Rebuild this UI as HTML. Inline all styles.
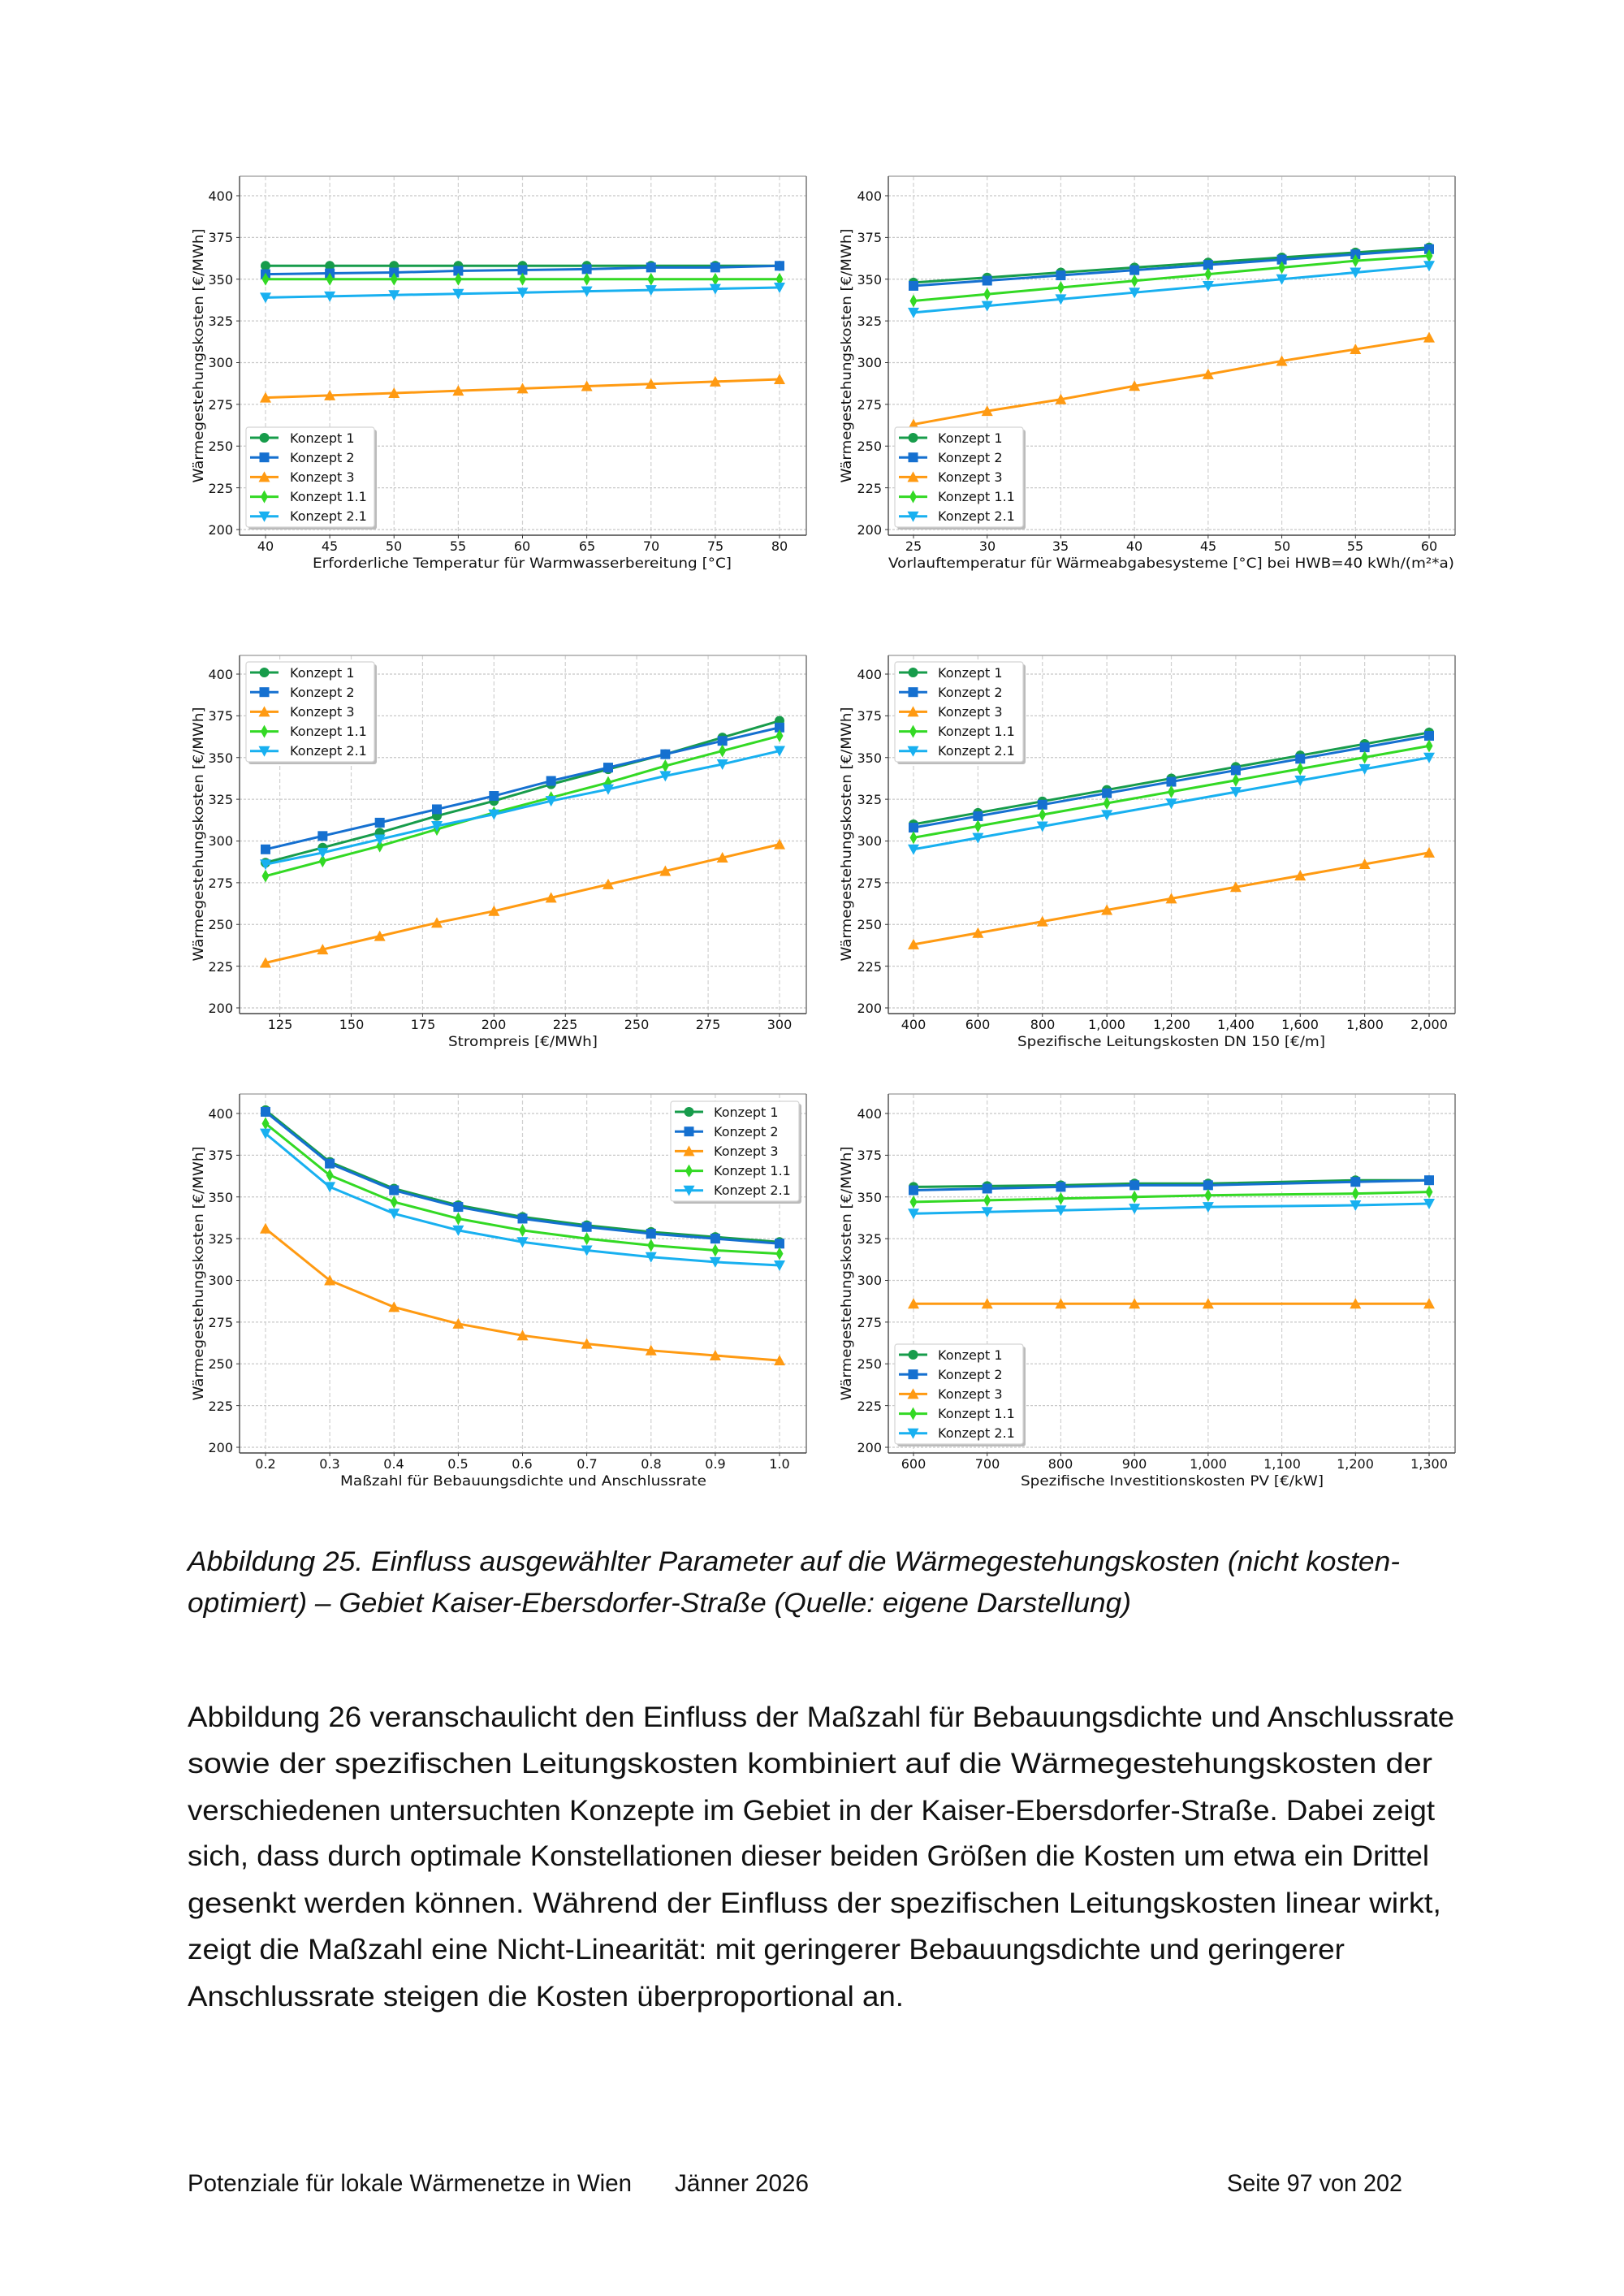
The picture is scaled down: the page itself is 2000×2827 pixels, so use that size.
<!DOCTYPE html>
<html><head><meta charset="utf-8">
<style>
html,body{margin:0;padding:0;background:#fff;}
svg{display:block;}
.tk{font-family:"DejaVu Sans",sans-serif;font-size:16px;fill:#111;}
.al{font-family:"DejaVu Sans",sans-serif;font-size:17px;fill:#111;}
.lg{font-family:"DejaVu Sans",sans-serif;font-size:16px;fill:#111;}
.cap{font-family:"Liberation Sans",sans-serif;font-size:34px;font-style:italic;fill:#111;}
.par{font-family:"Liberation Sans",sans-serif;font-size:35px;fill:#111;}
.ft{font-family:"Liberation Sans",sans-serif;font-size:30px;fill:#111;}
</style></head>
<body>
<svg id="s" width="2000" height="2827" viewBox="0 0 2000 2827" xmlns="http://www.w3.org/2000/svg">
<rect width="2000" height="2827" fill="#fff"/>
<g id="grid"></g>
<g id="data"></g>

<!-- Chart A -->
<g class="tk" text-anchor="end">
<text x="287" y="247">400</text><text x="287" y="298">375</text><text x="287" y="350">350</text><text x="287" y="401">325</text><text x="287" y="452">300</text><text x="287" y="504">275</text><text x="287" y="555">250</text><text x="287" y="607">225</text><text x="287" y="658">200</text>
</g>
<g class="tk" text-anchor="middle">
<text x="327" y="678">40</text><text x="406" y="678">45</text><text x="485" y="678">50</text><text x="564" y="678">55</text><text x="643" y="678">60</text><text x="723" y="678">65</text><text x="802" y="678">70</text><text x="881" y="678">75</text><text x="960" y="678">80</text>
</g>
<text class="al" x="385" y="699" textLength="516" lengthAdjust="spacingAndGlyphs">Erforderliche Temperatur für Warmwasserbereitung [°C]</text>
<text class="al" transform="translate(250,438) rotate(-90)" text-anchor="middle" textLength="313" lengthAdjust="spacingAndGlyphs">Wärmegestehungskosten [€/MWh]</text>

<!-- Chart B -->
<g class="tk" text-anchor="end">
<text x="1086" y="247">400</text><text x="1086" y="298">375</text><text x="1086" y="350">350</text><text x="1086" y="401">325</text><text x="1086" y="452">300</text><text x="1086" y="504">275</text><text x="1086" y="555">250</text><text x="1086" y="607">225</text><text x="1086" y="658">200</text>
</g>
<g class="tk" text-anchor="middle">
<text x="1125" y="678">25</text><text x="1216" y="678">30</text><text x="1306" y="678">35</text><text x="1397" y="678">40</text><text x="1488" y="678">45</text><text x="1579" y="678">50</text><text x="1669" y="678">55</text><text x="1760" y="678">60</text>
</g>
<text class="al" x="1094" y="699" textLength="697" lengthAdjust="spacingAndGlyphs">Vorlauftemperatur für Wärmeabgabesysteme [°C] bei HWB=40 kWh/(m²*a)</text>
<text class="al" transform="translate(1048,438) rotate(-90)" text-anchor="middle" textLength="313" lengthAdjust="spacingAndGlyphs">Wärmegestehungskosten [€/MWh]</text>

<!-- Chart C -->
<g class="tk" text-anchor="end">
<text x="287" y="836">400</text><text x="287" y="887">375</text><text x="287" y="939">350</text><text x="287" y="990">325</text><text x="287" y="1041">300</text><text x="287" y="1093">275</text><text x="287" y="1144">250</text><text x="287" y="1196">225</text><text x="287" y="1247">200</text>
</g>
<g class="tk" text-anchor="middle">
<text x="345" y="1267">125</text><text x="433" y="1267">150</text><text x="521" y="1267">175</text><text x="608" y="1267">200</text><text x="696" y="1267">225</text><text x="784" y="1267">250</text><text x="872" y="1267">275</text><text x="960" y="1267">300</text>
</g>
<text class="al" x="552" y="1288" textLength="184" lengthAdjust="spacingAndGlyphs">Strompreis [€/MWh]</text>
<text class="al" transform="translate(250,1027) rotate(-90)" text-anchor="middle" textLength="313" lengthAdjust="spacingAndGlyphs">Wärmegestehungskosten [€/MWh]</text>

<!-- Chart D -->
<g class="tk" text-anchor="end">
<text x="1086" y="836">400</text><text x="1086" y="887">375</text><text x="1086" y="939">350</text><text x="1086" y="990">325</text><text x="1086" y="1041">300</text><text x="1086" y="1093">275</text><text x="1086" y="1144">250</text><text x="1086" y="1196">225</text><text x="1086" y="1247">200</text>
</g>
<g class="tk" text-anchor="middle">
<text x="1125" y="1267">400</text><text x="1204" y="1267">600</text><text x="1284" y="1267">800</text><text x="1363" y="1267">1,000</text><text x="1443" y="1267">1,200</text><text x="1522" y="1267">1,400</text><text x="1601" y="1267">1,600</text><text x="1681" y="1267">1,800</text><text x="1760" y="1267">2,000</text>
</g>
<text class="al" x="1253" y="1288" textLength="379" lengthAdjust="spacingAndGlyphs">Spezifische Leitungskosten DN 150 [€/m]</text>
<text class="al" transform="translate(1048,1027) rotate(-90)" text-anchor="middle" textLength="313" lengthAdjust="spacingAndGlyphs">Wärmegestehungskosten [€/MWh]</text>

<!-- Chart E -->
<g class="tk" text-anchor="end">
<text x="287" y="1377">400</text><text x="287" y="1428">375</text><text x="287" y="1480">350</text><text x="287" y="1531">325</text><text x="287" y="1582">300</text><text x="287" y="1634">275</text><text x="287" y="1685">250</text><text x="287" y="1737">225</text><text x="287" y="1788">200</text>
</g>
<g class="tk" text-anchor="middle">
<text x="327" y="1808">0.2</text><text x="406" y="1808">0.3</text><text x="485" y="1808">0.4</text><text x="564" y="1808">0.5</text><text x="643" y="1808">0.6</text><text x="723" y="1808">0.7</text><text x="802" y="1808">0.8</text><text x="881" y="1808">0.9</text><text x="960" y="1808">1.0</text>
</g>
<text class="al" x="419" y="1829" textLength="451" lengthAdjust="spacingAndGlyphs">Maßzahl für Bebauungsdichte und Anschlussrate</text>
<text class="al" transform="translate(250,1568) rotate(-90)" text-anchor="middle" textLength="313" lengthAdjust="spacingAndGlyphs">Wärmegestehungskosten [€/MWh]</text>

<!-- Chart F -->
<g class="tk" text-anchor="end">
<text x="1086" y="1377">400</text><text x="1086" y="1428">375</text><text x="1086" y="1480">350</text><text x="1086" y="1531">325</text><text x="1086" y="1582">300</text><text x="1086" y="1634">275</text><text x="1086" y="1685">250</text><text x="1086" y="1737">225</text><text x="1086" y="1788">200</text>
</g>
<g class="tk" text-anchor="middle">
<text x="1125" y="1808">600</text><text x="1216" y="1808">700</text><text x="1306" y="1808">800</text><text x="1397" y="1808">900</text><text x="1488" y="1808">1,000</text><text x="1579" y="1808">1,100</text><text x="1669" y="1808">1,200</text><text x="1760" y="1808">1,300</text>
</g>
<text class="al" x="1257" y="1829" textLength="373" lengthAdjust="spacingAndGlyphs">Spezifische Investitionskosten PV [€/kW]</text>
<text class="al" transform="translate(1048,1568) rotate(-90)" text-anchor="middle" textLength="313" lengthAdjust="spacingAndGlyphs">Wärmegestehungskosten [€/MWh]</text>

<g id="legends"></g>
<!-- legend texts -->
<g class="lg">
<text x="357" y="545">Konzept 1</text><text x="357" y="569">Konzept 2</text><text x="357" y="593">Konzept 3</text><text x="357" y="617">Konzept 1.1</text><text x="357" y="641">Konzept 2.1</text>
<text x="1155" y="545">Konzept 1</text><text x="1155" y="569">Konzept 2</text><text x="1155" y="593">Konzept 3</text><text x="1155" y="617">Konzept 1.1</text><text x="1155" y="641">Konzept 2.1</text>
<text x="357" y="834">Konzept 1</text><text x="357" y="858">Konzept 2</text><text x="357" y="882">Konzept 3</text><text x="357" y="906">Konzept 1.1</text><text x="357" y="930">Konzept 2.1</text>
<text x="1155" y="834">Konzept 1</text><text x="1155" y="858">Konzept 2</text><text x="1155" y="882">Konzept 3</text><text x="1155" y="906">Konzept 1.1</text><text x="1155" y="930">Konzept 2.1</text>
<text x="879" y="1375">Konzept 1</text><text x="879" y="1399">Konzept 2</text><text x="879" y="1423">Konzept 3</text><text x="879" y="1447">Konzept 1.1</text><text x="879" y="1471">Konzept 2.1</text>
<text x="1155" y="1674">Konzept 1</text><text x="1155" y="1698">Konzept 2</text><text x="1155" y="1722">Konzept 3</text><text x="1155" y="1746">Konzept 1.1</text><text x="1155" y="1770">Konzept 2.1</text>
</g>

<!-- Caption -->
<text class="cap" x="231" y="1934" textLength="1493" lengthAdjust="spacingAndGlyphs">Abbildung 25. Einfluss ausgewählter Parameter auf die Wärmegestehungskosten (nicht kosten-</text>
<text class="cap" x="231" y="1985" textLength="1162" lengthAdjust="spacingAndGlyphs">optimiert) – Gebiet Kaiser-Ebersdorfer-Straße (Quelle: eigene Darstellung)</text>

<!-- Paragraph -->
<text class="par" x="231" y="2126" textLength="1560" lengthAdjust="spacingAndGlyphs">Abbildung 26 veranschaulicht den Einfluss der Maßzahl für Bebauungsdichte und Anschlussrate</text>
<text class="par" x="231" y="2183" textLength="1533" lengthAdjust="spacingAndGlyphs">sowie der spezifischen Leitungskosten kombiniert auf die Wärmegestehungskosten der</text>
<text class="par" x="231" y="2241" textLength="1536" lengthAdjust="spacingAndGlyphs">verschiedenen untersuchten Konzepte im Gebiet in der Kaiser-Ebersdorfer-Straße. Dabei zeigt</text>
<text class="par" x="231" y="2297" textLength="1529" lengthAdjust="spacingAndGlyphs">sich, dass durch optimale Konstellationen dieser beiden Größen die Kosten um etwa ein Drittel</text>
<text class="par" x="231" y="2355" textLength="1544" lengthAdjust="spacingAndGlyphs">gesenkt werden können. Während der Einfluss der spezifischen Leitungskosten linear wirkt,</text>
<text class="par" x="231" y="2412" textLength="1425" lengthAdjust="spacingAndGlyphs">zeigt die Maßzahl eine Nicht-Linearität: mit geringerer Bebauungsdichte und geringerer</text>
<text class="par" x="231" y="2470" textLength="882" lengthAdjust="spacingAndGlyphs">Anschlussrate steigen die Kosten überproportional an.</text>

<!-- Footer -->
<text class="ft" x="231" y="2698" textLength="547" lengthAdjust="spacingAndGlyphs">Potenziale für lokale Wärmenetze in Wien</text>
<text class="ft" x="831" y="2698" textLength="165" lengthAdjust="spacingAndGlyphs">Jänner 2026</text>
<text class="ft" x="1511" y="2698" textLength="216" lengthAdjust="spacingAndGlyphs">Seite 97 von 202</text>
</svg>
<script>
(function(){
var NS="http://www.w3.org/2000/svg";
function el(p,t,a){var e=document.createElementNS(NS,t);for(var k in a)e.setAttribute(k,a[k]);p.appendChild(e);return e;}
var G=document.getElementById('grid'),D=document.getElementById('data'),LG=document.getElementById('legends');
var col=['#179c4b','#1570d0','#ff9a12','#33d924','#18b0f0'];
var mk=['o','s','^','d','v'];
function marker(p,type,x,y,c){
 if(type=='o')el(p,'circle',{cx:x,cy:y,r:6,fill:c});
 else if(type=='s')el(p,'rect',{x:x-6,y:y-6,width:12,height:12,fill:c});
 else if(type=='^')el(p,'polygon',{points:(x)+','+(y-7)+' '+(x+7)+','+(y+6)+' '+(x-7)+','+(y+6),fill:c});
 else if(type=='v')el(p,'polygon',{points:(x)+','+(y+7)+' '+(x+7)+','+(y-6)+' '+(x-7)+','+(y-6),fill:c});
 else if(type=='d')el(p,'polygon',{points:x+','+(y-8)+' '+(x+4.5)+','+y+' '+x+','+(y+8)+' '+(x-4.5)+','+y,fill:c});
}
function chart(c){
 var yv=function(v){return c.y400+(400-v)*(c.y200-c.y400)/200;};
 var xv=function(v){return c.x0p+(v-c.x0)*(c.x1p-c.x0p)/(c.x1-c.x0);};
 // grid
 for(var v=200;v<=400;v+=25)el(G,'line',{x1:c.L,x2:c.R,y1:yv(v),y2:yv(v),stroke:'#c8c8c8','stroke-width':1.2,'stroke-dasharray':'3,2'});
 c.ticks.forEach(function(t){el(G,'line',{x1:xv(t),x2:xv(t),y1:c.T,y2:c.B,stroke:'#d0d0d0','stroke-width':1.2,'stroke-dasharray':'5,3'});});
 // frame
 el(G,'line',{x1:c.L,x2:c.R,y1:c.T,y2:c.T,stroke:'#aaa','stroke-width':1.5});
 el(G,'line',{x1:c.R,x2:c.R,y1:c.T,y2:c.B,stroke:'#777','stroke-width':1.5});
 el(G,'line',{x1:c.L,x2:c.L,y1:c.T,y2:c.B,stroke:'#555','stroke-width':1.5});
 el(G,'line',{x1:c.L,x2:c.R,y1:c.B,y2:c.B,stroke:'#444','stroke-width':1.5});
 for(var v=200;v<=400;v+=25)el(G,'line',{x1:c.L-4,x2:c.L,y1:yv(v),y2:yv(v),stroke:'#333','stroke-width':1});
 c.ticks.forEach(function(t){el(G,'line',{x1:xv(t),x2:xv(t),y1:c.B,y2:c.B+4,stroke:'#333','stroke-width':1});});
 c.ser.forEach(function(s,i){
  var pts=s.map(function(v,j){return xv(c.xs[j])+','+yv(v);}).join(' ');
  el(D,'polyline',{points:pts,fill:'none',stroke:col[i],'stroke-width':3,'stroke-linejoin':'round'});
  s.forEach(function(v,j){marker(D,mk[i],xv(c.xs[j]),yv(v),col[i]);});
 });
 // legend
 var lx=c.lg[0],ly=c.lg[1];
 el(LG,'rect',{x:lx+3,y:ly+3,width:158,height:123,rx:3,fill:'#bbb'});
 el(LG,'rect',{x:lx,y:ly,width:158,height:123,rx:3,fill:'#fff',stroke:'#d4d4d4','stroke-width':1.2});
 for(var i=0;i<5;i++){var yy=ly+13+i*24.2;
  el(LG,'line',{x1:lx+5,x2:lx+40,y1:yy,y2:yy,stroke:col[i],'stroke-width':3});
  marker(LG,mk[i],lx+22.5,yy,col[i]);}
}
function rng(a,b,s){var r=[];for(var v=a;v<=b+1e-9;v+=s)r.push(+v.toFixed(4));return r;}
function lin(a,b,n){var r=[];for(var i=0;i<n;i++)r.push(a+(b-a)*i/(n-1));return r;}
var rowA={T:217,B:659,y400:241,y200:652},rowB={T:807,B:1248,y400:830,y200:1241},rowC={T:1347,B:1789,y400:1371,y200:1782};
function mix(a,b){for(var k in b)a[k]=b[k];return a;}
chart(mix({L:295,R:993,x0:40,x1:80,x0p:327,x1p:960,xs:rng(40,80,5),ticks:rng(40,80,5),lg:[303,526],
 ser:[lin(358,358,9),[353,353.5,354,355,355.5,356,357,357,358],lin(279,290,9),lin(350,350,9),lin(339,345,9)]},rowA));
chart(mix({L:1094,R:1792,x0:25,x1:60,x0p:1125,x1p:1760,xs:rng(25,60,5),ticks:rng(25,60,5),lg:[1102,526],
 ser:[lin(348,369,8),lin(346,368,8),[263,271,278,286,293,301,308,315],[337,341,345,349,353,357,361,364],[330,334,338,342,346,350,354,358]]},rowA));
chart(mix({L:295,R:993,x0:120,x1:300,x0p:327,x1p:960,xs:rng(120,300,20),ticks:rng(125,300,25),lg:[303,815],
 ser:[[287,296,305,315,324,334,343,352,362,372],[295,303,311,319,327,336,344,352,360,368],[227,235,243,251,258,266,274,282,290,298],[279,288,297,307,317,326,335,345,354,363],[286,293,301,309,316,324,331,339,346,354]]},rowB));
chart(mix({L:1094,R:1792,x0:400,x1:2000,x0p:1125,x1p:1760,xs:rng(400,2000,200),ticks:rng(400,2000,200),lg:[1102,815],
 ser:[lin(310,365,9),lin(308,363,9),lin(238,293,9),lin(302,357,9),lin(295,350,9)]},rowB));
chart(mix({L:295,R:993,x0:0.2,x1:1.0,x0p:327,x1p:960,xs:rng(0.2,1.0,0.1),ticks:rng(0.2,1.0,0.1),lg:[826,1356],
 ser:[[402,371,355,345,338,333,329,326,323],[401,370,354,344,337,332,328,325,322],[331,300,284,274,267,262,258,255,252],[394,363,347,337,330,325,321,318,316],[388,356,340,330,323,318,314,311,309]]},rowC));
chart(mix({L:1094,R:1792,x0:600,x1:1300,x0p:1125,x1p:1760,xs:[600,700,800,900,1000,1200,1300],ticks:rng(600,1300,100),lg:[1102,1655],
 ser:[[356,356.5,357,358,358,360,360],[354,355,356,357,357,359,360],lin(286,286,7),[347,348,349,350,351,352,353],[340,341,342,343,344,345,346]]},rowC));
})();
</script>
</body></html>
